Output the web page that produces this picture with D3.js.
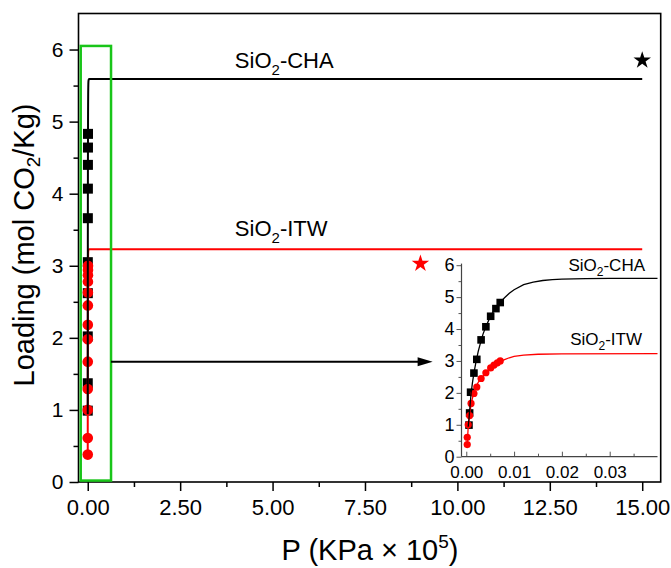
<!DOCTYPE html>
<html>
<head>
<meta charset="utf-8">
<script src="https://cdn.jsdelivr.net/npm/d3@7"></script>
<style>
  body { margin: 0; background: #fff; }
  text { font-family: Arial, "Liberation Sans", Helvetica, sans-serif; fill: #000; }
</style>
</head>
<body>
<div id="chart"></div>
<script>
// measured points, P in KPa x 10^5
var chaP = [0.00056, 0.0007, 0.0009, 0.0016, 0.0022, 0.0031, 0.0041, 0.0051, 0.0062, 0.0071];
var chaLoad = [0.99, 1.37, 2.02, 2.62, 3.05, 3.66, 4.07, 4.40, 4.64, 4.83];
var itwP = [0.0002, 0.0002, 0.0004, 0.0007, 0.001, 0.0016, 0.0022, 0.0031, 0.0041, 0.0051, 0.0058, 0.0065, 0.0071];
var itwLoad = [0.38, 0.61, 1.0, 1.29, 1.67, 1.98, 2.18, 2.45, 2.63, 2.78, 2.87, 2.94, 3.0];

// fitted isotherms
var chaFitP = [0.0004, 0.0006, 0.0008, 0.001, 0.0013, 0.0016, 0.002, 0.0025, 0.003, 0.0035, 0.004, 0.005, 0.006, 0.007, 0.008, 0.009, 0.010, 0.012, 0.014, 0.016, 0.018, 0.020, 0.025, 0.030, 0.040, 15.0];
var chaFitLoad = [0.94, 1.25, 1.62, 1.98, 2.33, 2.62, 2.95, 3.30, 3.58, 3.84, 4.04, 4.38, 4.63, 4.82, 4.98, 5.12, 5.23, 5.39, 5.47, 5.52, 5.55, 5.565, 5.58, 5.585, 5.59, 5.59];
var itwFitP = [0.0002, 0.0004, 0.0007, 0.001, 0.0013, 0.0016, 0.002, 0.0025, 0.003, 0.004, 0.005, 0.006, 0.007, 0.008, 0.009, 0.010, 0.012, 0.015, 0.020, 0.040, 15.0];
var itwFitLoad = [0.40, 0.92, 1.30, 1.63, 1.84, 1.99, 2.18, 2.33, 2.44, 2.62, 2.76, 2.87, 2.97, 3.04, 3.10, 3.14, 3.18, 3.21, 3.22, 3.23, 3.23];

// reference values (stars)
var starP = [15.0, 9.0];
var starLoad = [5.85, 3.03];
var starColors = ["#000000", "#ff0000"];

// ticks
var xTicks = [0, 2.5, 5, 7.5, 10, 12.5, 15];
var xMinor = [1.25, 3.75, 6.25, 8.75, 11.25, 13.75];
var yTicks = [0, 1, 2, 3, 4, 5, 6];
var yMinor = [0.5, 1.5, 2.5, 3.5, 4.5, 5.5];
var insetXTicks = [0, 0.01, 0.02, 0.03];
var insetXMinor = [0.005, 0.015, 0.025, 0.035];

var svgWidth = 671;
var svgHeight = 568;

var svg = d3.select("#chart")
  .append("svg")
  .attr("width", svgWidth)
  .attr("height", svgHeight);

var red = "#ff0000";
var green = "#19c519";

// main scales
var x = d3.scaleLinear().domain([-0.25, 15.5]).range([78.5, 660.7]);
var y = d3.scaleLinear().domain([0, 6.5]).range([482, 13.5]);

// inset scales
var xi = d3.scaleLinear().domain([-0.001, 0.04]).range([461.5, 657.5]);
var yi = d3.scaleLinear().domain([0, 6.05]).range([456.7, 263.6]);

function pairs(px, py) {
  return px.map((p, i) => [p, py[i]]);
}
var chaPts = pairs(chaP, chaLoad);
var itwPts = pairs(itwP, itwLoad);
var chaFit = pairs(chaFitP, chaFitLoad);
var itwFit = pairs(itwFitP, itwFitLoad);

// ---------- main axes ----------
var xAxis = svg.append("g")
  .attr("transform", `translate(0, ${y(0)})`)
  .call(d3.axisBottom(x).tickValues(xTicks).tickSize(9).tickPadding(8)
    .tickFormat(d3.format(".2f")));
xAxis.selectAll("text").attr("font-size", "22px");

svg.append("g")
  .attr("transform", `translate(0, ${y(0)})`)
  .call(d3.axisBottom(x).tickValues(xMinor).tickSize(5).tickFormat(""));

var yAxis = svg.append("g")
  .attr("transform", `translate(${x.range()[0]}, 0)`)
  .call(d3.axisLeft(y).tickValues(yTicks).tickSize(9).tickPadding(6)
    .tickFormat(d3.format("d")));
yAxis.selectAll("text").attr("font-size", "21px");

svg.append("g")
  .attr("transform", `translate(${x.range()[0]}, 0)`)
  .call(d3.axisLeft(y).tickValues(yMinor).tickSize(5).tickFormat(""));

svg.selectAll(".domain").remove();
svg.selectAll(".tick line").attr("stroke", "#000").attr("stroke-width", 1.5);

// frame
svg.append("rect")
  .attr("x", x.range()[0])
  .attr("y", y.range()[1])
  .attr("width", x.range()[1] - x.range()[0])
  .attr("height", y.range()[0] - y.range()[1])
  .attr("fill", "none")
  .attr("stroke", "#000")
  .attr("stroke-width", 1.6);

// axis titles
var xTitle = svg.append("text")
  .attr("x", 370)
  .attr("y", 560)
  .attr("text-anchor", "middle")
  .attr("font-size", "29px");
xTitle.append("tspan").text("P (KPa \u00d7 10");
xTitle.append("tspan").attr("font-size", "19px").attr("dy", "-12").text("5");
xTitle.append("tspan").attr("dy", "12").text(")");

var yTitle = svg.append("text")
  .attr("transform", "translate(34, 245) rotate(-90)")
  .attr("text-anchor", "middle")
  .attr("font-size", "29px");
yTitle.append("tspan").text("Loading (mol CO");
yTitle.append("tspan").attr("font-size", "19px").attr("dy", "6").text("2");
yTitle.append("tspan").attr("dy", "-6").text("/Kg)");

// ---------- main marks ----------
var line = d3.line().x(d => x(d[0])).y(d => y(d[1]));

svg.append("g").selectAll("rect")
  .data(chaPts)
  .enter()
  .append("rect")
  .attr("x", d => x(d[0]) - 5)
  .attr("y", d => y(d[1]) - 5)
  .attr("width", 10)
  .attr("height", 10)
  .attr("fill", "#000");

svg.append("g").selectAll("circle")
  .data(itwPts)
  .enter()
  .append("circle")
  .attr("cx", d => x(d[0]))
  .attr("cy", d => y(d[1]))
  .attr("r", 5.3)
  .attr("fill", red);

svg.append("path")
  .datum(itwFit)
  .attr("d", line)
  .attr("fill", "none")
  .attr("stroke", red)
  .attr("stroke-width", 2);

svg.append("path")
  .datum(chaFit)
  .attr("d", line)
  .attr("fill", "none")
  .attr("stroke", "#000")
  .attr("stroke-width", 2);

// stars
svg.append("g").selectAll("path")
  .data(starP)
  .enter()
  .append("path")
  .attr("transform", (d, i) => `translate(${x(d)}, ${y(starLoad[i])})`)
  .attr("d", d3.symbol().type(d3.symbolStar).size(95))
  .attr("fill", (d, i) => starColors[i]);

// series labels
function chemLabel(g, px, py, size, name, anchor) {
  var t = g.append("text")
    .attr("x", px)
    .attr("y", py)
    .attr("font-size", size + "px")
    .attr("text-anchor", anchor || "start");
  t.append("tspan").text("SiO");
  t.append("tspan").attr("font-size", Math.round(size * 0.68) + "px").attr("dy", size * 0.3).text("2");
  t.append("tspan").attr("dy", -size * 0.3).text("-" + name);
  return t;
}
chemLabel(svg, x(3.98), y(5.74), 22, "CHA");
chemLabel(svg, x(3.98), y(3.41), 22, "ITW");

// zoom box and arrow
svg.append("rect")
  .attr("x", x(-0.19))
  .attr("y", y(6.05))
  .attr("width", x(0.63) - x(-0.19))
  .attr("height", y(0.02) - y(6.05))
  .attr("fill", "none")
  .attr("stroke", green)
  .attr("stroke-width", 2.5);

var arrowY = y(1.67);
var arrowEnd = x(9.33);
svg.append("line")
  .attr("x1", x(0.63))
  .attr("x2", arrowEnd - 10)
  .attr("y1", arrowY)
  .attr("y2", arrowY)
  .attr("stroke", "#000")
  .attr("stroke-width", 2);
svg.append("path")
  .attr("d", `M${arrowEnd},${arrowY} L${arrowEnd - 15},${arrowY - 4.5} L${arrowEnd - 15},${arrowY + 4.5} Z`)
  .attr("fill", "#000");

// ---------- inset ----------
var inset = svg.append("g");

var ixAxis = inset.append("g")
  .attr("transform", `translate(0, ${yi(0)})`)
  .call(d3.axisBottom(xi).tickValues(insetXTicks).tickSize(-5).tickPadding(9)
    .tickFormat(d3.format(".2f")));
ixAxis.selectAll("text").attr("font-size", "17px");
inset.append("g")
  .attr("transform", `translate(0, ${yi(0)})`)
  .call(d3.axisBottom(xi).tickValues(insetXMinor).tickSize(-3).tickFormat(""));

var iyAxis = inset.append("g")
  .attr("transform", `translate(${xi.range()[0]}, 0)`)
  .call(d3.axisLeft(yi).tickValues(yTicks).tickSize(5).tickPadding(2)
    .tickFormat(d3.format("d")));
iyAxis.selectAll("text").attr("font-size", "18px").attr("dy", "0.3em");
inset.append("g")
  .attr("transform", `translate(${xi.range()[0]}, 0)`)
  .call(d3.axisLeft(yi).tickValues(yMinor).tickSize(3).tickFormat(""));

inset.selectAll(".domain").remove();
inset.selectAll(".tick line").attr("stroke", "#555").attr("stroke-width", 1);

inset.append("line")
  .attr("x1", xi.range()[0]).attr("x2", xi.range()[1])
  .attr("y1", yi(0)).attr("y2", yi(0))
  .attr("stroke", "#444").attr("stroke-width", 1.2);
inset.append("line")
  .attr("x1", xi.range()[0]).attr("x2", xi.range()[0])
  .attr("y1", yi.range()[0]).attr("y2", yi.range()[1])
  .attr("stroke", "#444").attr("stroke-width", 1.2);

svg.append("clipPath")
  .attr("id", "insetClip")
  .append("rect")
  .attr("x", xi.range()[0])
  .attr("y", yi.range()[1] - 5)
  .attr("width", xi.range()[1] - xi.range()[0])
  .attr("height", yi.range()[0] - yi.range()[1] + 5);

var iline = d3.line().x(d => xi(d[0])).y(d => yi(d[1]));

var plotArea = inset.append("g").attr("clip-path", "url(#insetClip)");

plotArea.append("g").selectAll("rect")
  .data(chaPts)
  .enter()
  .append("rect")
  .attr("x", d => xi(d[0]) - 3.8)
  .attr("y", d => yi(d[1]) - 3.8)
  .attr("width", 7.6)
  .attr("height", 7.6)
  .attr("fill", "#000");

plotArea.append("g").selectAll("circle")
  .data(itwPts)
  .enter()
  .append("circle")
  .attr("cx", d => xi(d[0]))
  .attr("cy", d => yi(d[1]))
  .attr("r", 3.6)
  .attr("fill", red);

plotArea.append("path")
  .datum(itwFit)
  .attr("d", iline)
  .attr("fill", "none")
  .attr("stroke", red)
  .attr("stroke-width", 1.3);

plotArea.append("path")
  .datum(chaFit)
  .attr("d", iline)
  .attr("fill", "none")
  .attr("stroke", "#000")
  .attr("stroke-width", 1.3);

chemLabel(inset, 645, 271, 17, "CHA", "end");
chemLabel(inset, 642, 345, 17, "ITW", "end");
</script>
</body>
</html>
